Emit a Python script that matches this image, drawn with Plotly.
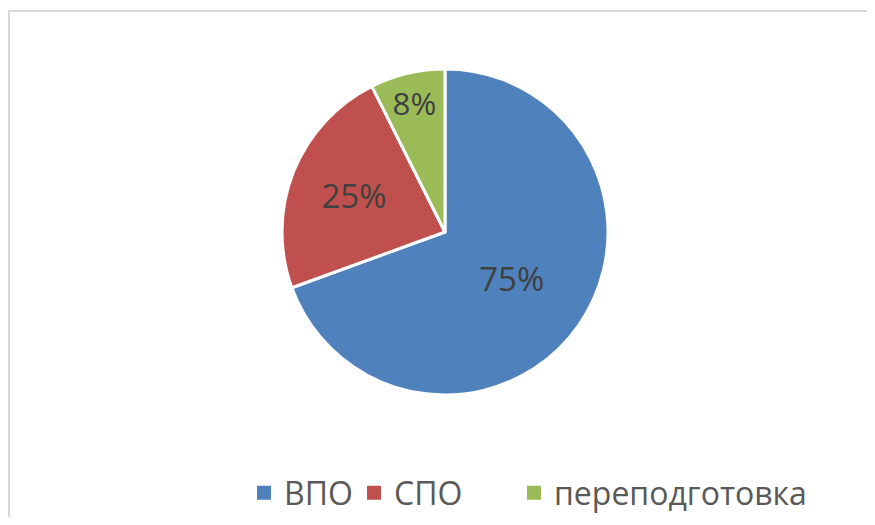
import plotly.graph_objects as go

labels = ['ВПО', 'СПО', 'переподготовка']
values = [75, 25, 8]
colors = ['#4F81BD', '#C0504D', '#9BBB59']

# page body has an 8px margin, so the figure is drawn inside it
W, H = 859, 509
CX, CY, R = 437, 224, 163

fig = go.Figure()
fig.add_trace(
    go.Pie(
        labels=labels,
        values=values,
        sort=False,
        direction='clockwise',
        rotation=0,
        marker=dict(colors=colors, line=dict(color='white', width=3)),
        texttemplate='%{value}%',
        textposition='inside',
        insidetextorientation='horizontal',
        textfont=dict(size=33, color='#404040', family='Open Sans'),
        hoverinfo='skip',
        showlegend=False,
        domain=dict(x=[(CX - R) / W, (CX + R) / W],
                    y=[(H - CY - R) / H, (H - CY + R) / H]),
    )
)

# legend-only entries with bigger square swatches, one legend each
legend_x = [236, 346, 506]
legend_names = ['legend', 'legend2', 'legend3']
for name, color, lg in zip(labels, colors, legend_names):
    fig.add_trace(
        go.Scatter(
            x=[None], y=[None], mode='markers', name=name,
            marker=dict(symbol='square', size=14, color=color),
            legend=lg, hoverinfo='skip',
        )
    )

legend_style = dict(
    orientation='h',
    xanchor='left',
    y=(H - 485) / H,
    yanchor='middle',
    font=dict(size=32, color='#595959', family='Open Sans'),
    itemwidth=30,
    bgcolor='rgba(0,0,0,0)',
)

fig.update_layout(
    width=W,
    height=H,
    margin=dict(l=0, r=0, t=0, b=0, autoexpand=False),
    paper_bgcolor='white',
    plot_bgcolor='white',
    font=dict(family='Open Sans', color='#595959'),
    showlegend=True,
    xaxis=dict(visible=False),
    yaxis=dict(visible=False),
    legend=dict(x=legend_x[0] / W, **legend_style),
    legend2=dict(x=legend_x[1] / W, **legend_style),
    legend3=dict(x=legend_x[2] / W, **legend_style),
    shapes=[
        dict(type='line', xref='paper', yref='paper',
             x0=1 / W, x1=1 / W, y0=0, y1=(H - 2) / H,
             line=dict(color='#D9D9D9', width=2)),
        dict(type='line', xref='paper', yref='paper',
             x0=0, x1=1, y0=(H - 3) / H, y1=(H - 3) / H,
             line=dict(color='#D9D9D9', width=2)),
    ],
)

fig.write_html('out.html')
